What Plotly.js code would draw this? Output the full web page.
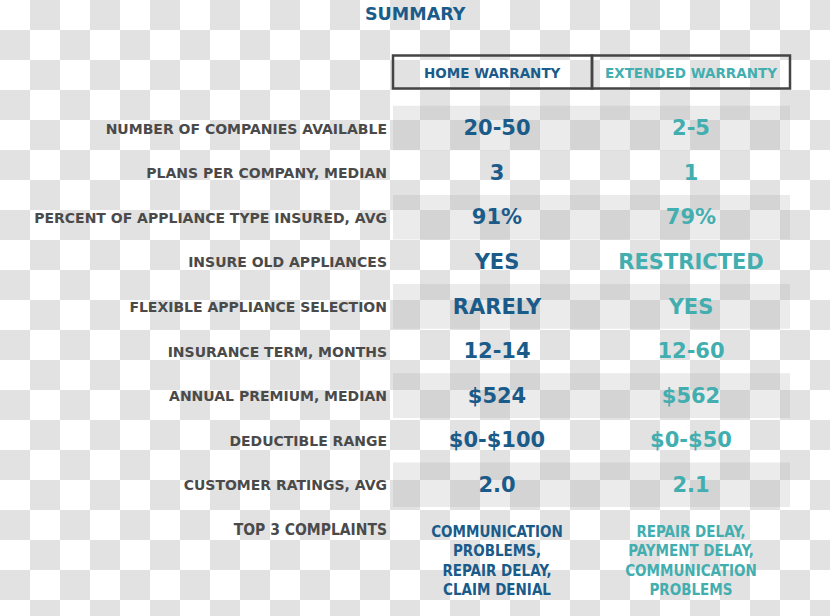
<!DOCTYPE html>
<html>
<head>
<meta charset="utf-8">
<script src="https://cdn.plot.ly/plotly-3.0.1.min.js"></script>
<style>html,body{margin:0;padding:0;background:#fff}#chart{width:830px;height:616px}</style>
</head>
<body>
<div id="chart"></div>
<script>
// ---- data ----
const title = "SUMMARY";
const columnHeaders = ["HOME WARRANTY", "EXTENDED WARRANTY"];
const rowLabels = [
  "NUMBER OF COMPANIES AVAILABLE",
  "PLANS PER COMPANY, MEDIAN",
  "PERCENT OF APPLIANCE TYPE INSURED, AVG",
  "INSURE OLD APPLIANCES",
  "FLEXIBLE APPLIANCE SELECTION",
  "INSURANCE TERM, MONTHS",
  "ANNUAL PREMIUM, MEDIAN",
  "DEDUCTIBLE RANGE",
  "CUSTOMER RATINGS, AVG"
];
const homeValues = ["20-50", "3", "91%", "YES", "RARELY", "12-14", "$524", "$0-$100", "2.0"];
const extendedValues = ["2-5", "1", "79%", "RESTRICTED", "YES", "12-60", "$562", "$0-$50", "2.1"];
const complaintsLabel = "TOP 3 COMPLAINTS";
const homeComplaints = ["COMMUNICATION", "PROBLEMS,", "REPAIR DELAY,", "CLAIM DENIAL"];
const extendedComplaints = ["REPAIR DELAY,", "PAYMENT DELAY,", "COMMUNICATION", "PROBLEMS"];

// ---- layout constants (positions/styles) ----
const W = 830, H = 616;
const COL = {label: 387, home: 497, ext: 691, left: 393, mid: 592, right: 790};
const ROW0 = 130, ROWSTEP = 44.6;
const BLUE = "#1a5b8a", TEAL = "#42aeb0", GREY = "#4a4a4a";
const FONT = "'DejaVu Sans', sans-serif";
const COND = "'DejaVu Sans Condensed', 'Liberation Sans Narrow', sans-serif";

const yTop = -ROW0 / ROWSTEP, yBot = (H - ROW0) / ROWSTEP;
const idx = rowLabels.map((_, i) => i);
const lastRow = rowLabels.length;

const traces = [
  {x: rowLabels.map(() => COL.label), y: idx, text: rowLabels, mode: "text", textposition: "middle left",
   textfont: {family: FONT, size: 14, color: GREY, weight: 700}, hoverinfo: "skip"},
  {x: homeValues.map(() => COL.home), y: idx, text: homeValues, mode: "text", textposition: "middle center",
   textfont: {family: FONT, size: 21, color: BLUE, weight: 700}, hoverinfo: "skip"},
  {x: extendedValues.map(() => COL.ext), y: idx, text: extendedValues, mode: "text", textposition: "middle center",
   textfont: {family: FONT, size: 21, color: TEAL, weight: 700}, hoverinfo: "skip"},
  {x: [COL.label], y: [lastRow], text: [complaintsLabel], mode: "text", textposition: "middle left",
   textfont: {family: COND, size: 15.5, color: GREY, weight: 700}, hoverinfo: "skip"},
  {x: [COL.home], y: [lastRow - 0.13], text: [homeComplaints.join("<br>")], mode: "text", textposition: "bottom center",
   textfont: {family: COND, size: 15, color: BLUE, weight: 700}, hoverinfo: "skip"},
  {x: [COL.ext], y: [lastRow - 0.13], text: [extendedComplaints.join("<br>")], mode: "text", textposition: "bottom center",
   textfont: {family: COND, size: 15, color: TEAL, weight: 700}, hoverinfo: "skip"}
];

const shapes = [];
const SQ = 30;
for (let r = 0; r * SQ < H; r++) {
  for (let c = 0; c * SQ < W; c++) {
    if ((r + c) % 2 === 1) {
      shapes.push({type: "rect", xref: "paper", yref: "paper", layer: "below",
        x0: c * SQ / W, x1: Math.min((c + 1) * SQ, W) / W,
        y0: 1 - Math.min((r + 1) * SQ, H) / H, y1: 1 - r * SQ / H,
        line: {width: 0}, fillcolor: "#e2e2e2"});
    }
  }
}
const bandShift = -2 / ROWSTEP;
idx.forEach(i => {
  if (i % 2 === 0) {
    shapes.push({type: "rect", xref: "x", yref: "y", layer: "below",
      x0: COL.left, x1: COL.right, y0: i - 0.5 + bandShift, y1: i + 0.5 + bandShift,
      line: {width: 0}, fillcolor: "rgba(160,160,160,0.21)"});
  }
});
const headY = (72 - ROW0) / ROWSTEP, headH = 16.5 / ROWSTEP;
[[COL.left, COL.mid], [COL.mid, COL.right]].forEach(([a, b]) => {
  shapes.push({type: "rect", xref: "x", yref: "y", layer: "above",
    x0: a, x1: b, y0: headY - headH, y1: headY + headH,
    line: {width: 2.5, color: "#444"}, fillcolor: "rgba(0,0,0,0)"});
});

const annotations = [
  {x: 415, y: (14 - ROW0) / ROWSTEP, xref: "x", yref: "y", text: title, showarrow: false,
   font: {family: FONT, size: 17.5, color: BLUE, weight: 700}},
  {x: (COL.left + COL.mid) / 2, y: headY + 1 / ROWSTEP, xref: "x", yref: "y", text: columnHeaders[0], showarrow: false,
   font: {family: FONT, size: 13.5, color: BLUE, weight: 700}},
  {x: (COL.mid + COL.right) / 2, y: headY + 1 / ROWSTEP, xref: "x", yref: "y", text: columnHeaders[1], showarrow: false,
   font: {family: FONT, size: 13.5, color: TEAL, weight: 700}}
];

const layout = {
  width: W, height: H, margin: {l: 0, r: 0, t: 0, b: 0, pad: 0},
  paper_bgcolor: "#ffffff", plot_bgcolor: "rgba(0,0,0,0)",
  showlegend: false,
  xaxis: {range: [0, W], visible: false, fixedrange: true},
  yaxis: {range: [yBot, yTop], visible: false, fixedrange: true},
  shapes: shapes, annotations: annotations
};
Plotly.newPlot("chart", traces, layout, {displayModeBar: false, staticPlot: true});
</script>
</body>
</html>
